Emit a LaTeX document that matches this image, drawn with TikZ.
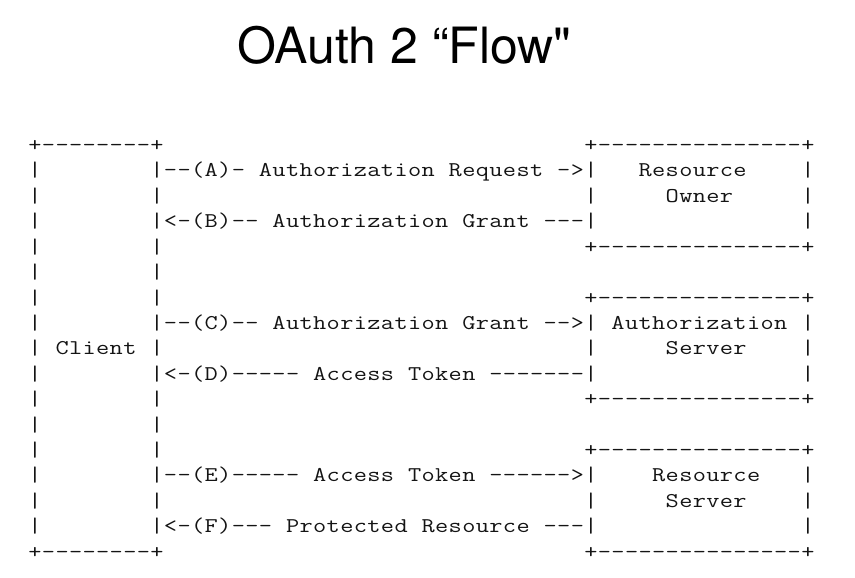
\documentclass[tikz,border=0pt]{standalone}
\usepackage{fontspec}
\usepackage{graphicx}
\newfontfamily\asciifont[WordSpace={1,0,0}]{Latin Modern Mono}
\newfontfamily\titlefont{TeX Gyre Heros}
\newlength\cw
\setlength\cw{13.56pt}
% one fixed-width cell per character; '.' stands for a blank cell
\def\monoloop#1{\ifx\relax#1\else\makebox[\cw]{\if.#1\else\scalebox{1.22}[1]{#1}\fi}\expandafter\monoloop\fi}
\newcommand\mono[1]{\edef\monotmp{#1}\expandafter\monoloop\monotmp\relax}
\def\Ten{..........}
\def\Rb{\Ten\Ten\Ten.}
\def\Blank{\Ten.....}
\def\Fv{-----}
\def\Edge{+\Fv\Fv\Fv+}
\def\Ltop{+--------+}
\def\Lb{|........|}
\newcommand\asciisize{\asciifont\fontsize{21}{25}\selectfont}
\tikzset{
  row/.style={anchor=base west, inner sep=0pt, outer sep=0pt, font=\asciisize, text=black!92},
  titletext/.style={anchor=base, inner sep=0pt, font=\titlefont\fontsize{50}{56}\selectfont, text=black}
}
\begin{document}
\begin{tikzpicture}[x=1pt,y=-1pt]
\useasboundingbox (0,0) rectangle (855,578);
\node[titletext] (title) at (404.5,63.5) {OAuth 2 “Flow"};
\node[row] (r1)  at (28.2,151.50) {\mono{\Ltop\Rb\Edge}};
\node[row] (r2)  at (28.2,176.92) {\mono{\Lb--(A)-.Authorization.Request.->|...Resource....|}};
\node[row] (r3)  at (28.2,202.34) {\mono{\Lb\Rb|.....Owner.....|}};
\node[row] (r4)  at (28.2,227.76) {\mono{\Lb<-(B)--.Authorization.Grant.---|\Blank|}};
\node[row] (r5)  at (28.2,253.18) {\mono{\Lb\Rb\Edge}};
\node[row] (r6)  at (28.2,278.60) {\mono{\Lb}};
\node[row] (r7)  at (28.2,304.02) {\mono{\Lb\Rb\Edge}};
\node[row] (r8)  at (28.2,329.44) {\mono{\Lb--(C)--.Authorization.Grant.-->|.Authorization.|}};
\node[row] (r9)  at (28.2,354.86) {\mono{|.Client.|\Rb|.....Server....|}};
\node[row] (r10) at (28.2,380.28) {\mono{\Lb<-(D)-----.Access.Token.-------|\Blank|}};
\node[row] (r11) at (28.2,405.70) {\mono{\Lb\Rb\Edge}};
\node[row] (r12) at (28.2,431.12) {\mono{\Lb}};
\node[row] (r13) at (28.2,456.54) {\mono{\Lb\Rb\Edge}};
\node[row] (r14) at (28.2,481.96) {\mono{\Lb--(E)-----.Access.Token.------>|....Resource...|}};
\node[row] (r15) at (28.2,507.38) {\mono{\Lb\Rb|.....Server....|}};
\node[row] (r16) at (28.2,532.80) {\mono{\Lb<-(F)---.Protected.Resource.---|\Blank|}};
\node[row] (r17) at (28.2,558.22) {\mono{\Ltop\Rb\Edge}};
\end{tikzpicture}
\end{document}
